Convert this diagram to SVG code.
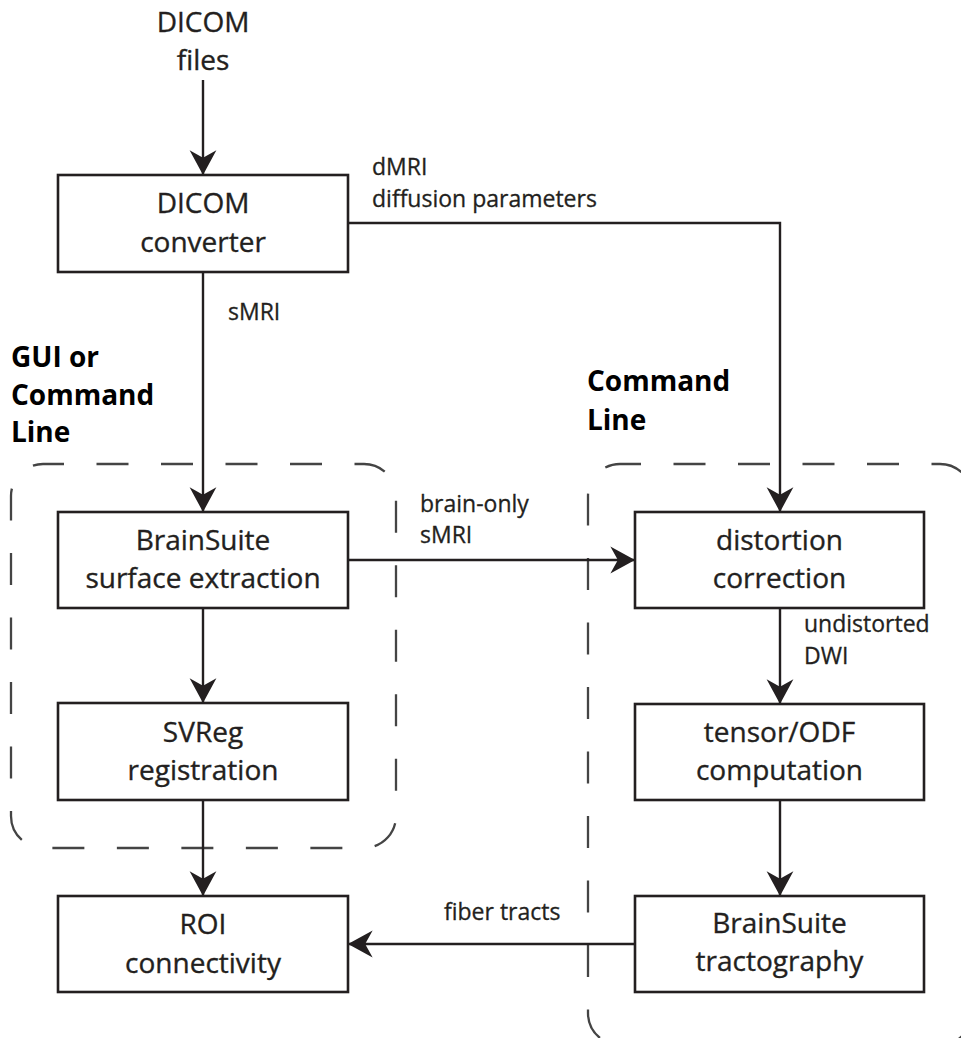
<svg xmlns="http://www.w3.org/2000/svg" width="961" height="1038" viewBox="0 0 961 1038">
<style>
.box{fill:#fff;stroke:#231f20;stroke-width:2.6}
.t{font-family:"Open Sans","Liberation Sans",sans-serif;font-size:28px;fill:#231f20;stroke:#231f20;stroke-width:0.35;text-anchor:middle}
.lb{font-family:"Open Sans","Liberation Sans",sans-serif;font-size:23px;fill:#231f20;stroke:#231f20;stroke-width:0.3}
.bd{font-family:"Open Sans","Liberation Sans",sans-serif;font-size:28px;font-weight:bold;fill:#000}
.dash{fill:none;stroke:#444;stroke-width:2.3;stroke-dasharray:32 32.5}
.c{fill:none;stroke:#231f20;stroke-width:2.4}
</style>
<defs>
<marker id="ah" markerUnits="userSpaceOnUse" markerWidth="30" markerHeight="30" viewBox="-24 -14 26 28" refX="0" refY="0" orient="auto">
<path d="M0,0 L-23,-12.5 L-16,0 L-23,12.5 Z" fill="#231f20"/>
</marker>
</defs>
<rect width="961" height="1038" fill="#fff"/>
<g id="groups">
<rect class="dash" x="11" y="464" width="385" height="384" rx="32" style="stroke-dashoffset:11"/>
<rect class="dash" x="588" y="464" width="384" height="581" rx="32" style="stroke-dashoffset:11"/>
<text class="bd" x="11" y="367">GUI or</text>
<text class="bd" x="11" y="405">Command</text>
<text class="bd" x="11" y="442">Line</text>
<text class="bd" x="587" y="391">Command</text>
<text class="bd" x="587" y="430">Line</text>
</g>
<g id="connectors">
<line class="c" x1="203" y1="80" x2="203" y2="175" marker-end="url(#ah)"/>
<line class="c" x1="203" y1="272" x2="203" y2="512" marker-end="url(#ah)"/>
<path class="c" d="M348,223 H780 V512" marker-end="url(#ah)"/>
<line class="c" x1="348" y1="560" x2="635" y2="560" marker-end="url(#ah)"/>
<line class="c" x1="203" y1="608" x2="203" y2="703" marker-end="url(#ah)"/>
<line class="c" x1="203" y1="800" x2="203" y2="896" marker-end="url(#ah)"/>
<line class="c" x1="780" y1="608" x2="780" y2="704" marker-end="url(#ah)"/>
<line class="c" x1="780" y1="800" x2="780" y2="896" marker-end="url(#ah)"/>
<line class="c" x1="636" y1="944" x2="348" y2="944" marker-end="url(#ah)"/>
<text class="lb" x="372" y="175">dMRI</text>
<text class="lb" x="372" y="207">diffusion parameters</text>
<text class="lb" x="228" y="320">sMRI</text>
<text class="lb" x="420" y="512">brain-only</text>
<text class="lb" x="420" y="543">sMRI</text>
<text class="lb" x="804" y="632">undistorted</text>
<text class="lb" x="804" y="664">DWI</text>
<text class="lb" x="444" y="920">fiber tracts</text>
</g>
<g id="dicom-files">
<text class="t" x="203" y="32">DICOM</text>
<text class="t" x="203" y="70">files</text>
</g>
<g id="dicom-converter">
<rect class="box" x="58" y="175" width="290" height="97"/>
<text class="t" x="203" y="213">DICOM</text>
<text class="t" x="203" y="252">converter</text>
</g>
<g id="surface-extraction">
<rect class="box" x="58" y="512" width="290" height="96"/>
<text class="t" x="203" y="550">BrainSuite</text>
<text class="t" x="203" y="588">surface extraction</text>
</g>
<g id="svreg">
<rect class="box" x="58" y="703" width="290" height="97"/>
<text class="t" x="203" y="742">SVReg</text>
<text class="t" x="203" y="780">registration</text>
</g>
<g id="roi">
<rect class="box" x="58" y="896" width="290" height="96"/>
<text class="t" x="203" y="934">ROI</text>
<text class="t" x="203" y="973">connectivity</text>
</g>
<g id="distortion">
<rect class="box" x="635" y="512" width="289" height="96"/>
<text class="t" x="779.5" y="550">distortion</text>
<text class="t" x="779.5" y="588">correction</text>
</g>
<g id="tensor">
<rect class="box" x="635" y="704" width="289" height="96"/>
<text class="t" x="779.5" y="742">tensor/ODF</text>
<text class="t" x="779.5" y="780">computation</text>
</g>
<g id="tractography">
<rect class="box" x="635" y="896" width="289" height="96"/>
<text class="t" x="779.5" y="933">BrainSuite</text>
<text class="t" x="779.5" y="971">tractography</text>
</g>
</svg>
